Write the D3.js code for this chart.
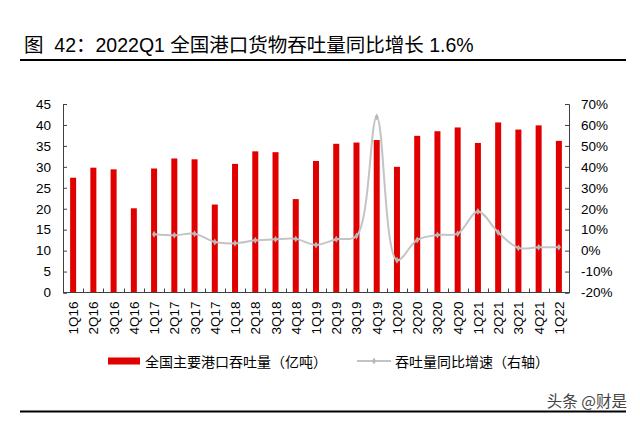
<!DOCTYPE html>
<html><head><meta charset="utf-8">
<script src="https://cdn.jsdelivr.net/npm/d3@7"></script>
<style>
body{margin:0;background:#fff;}
svg{display:block;font-family:"Liberation Sans","Noto Sans CJK SC",Arial,sans-serif;}
.pre{white-space:pre;}
</style></head>
<body>
<svg id="c" width="640" height="421"></svg>
<script>
const categories = ["1Q16","2Q16","3Q16","4Q16","1Q17","2Q17","3Q17","4Q17","1Q18","2Q18","3Q18","4Q18","1Q19","2Q19","3Q19","4Q19","1Q20","2Q20","3Q20","4Q20","1Q21","2Q21","3Q21","4Q21","1Q22"];
const throughput = [27.4,29.8,29.4,20.1,29.6,32.0,31.8,21.0,30.7,33.7,33.5,22.3,31.4,35.5,35.8,36.4,30.0,37.4,38.5,39.4,35.7,40.6,38.9,39.9,36.2];
const growth = [null,null,null,null,7.8,7.3,8.1,4.1,3.5,4.9,5.4,5.6,2.7,5.4,7.0,63.8,-4.6,5.1,7.5,8.1,18.7,8.7,1.3,1.6,1.6];
const leftTicks = [0,5,10,15,20,25,30,35,40,45];
const rightTicks = [-20,-10,0,10,20,30,40,50,60,70];
const title = "图  42：2022Q1 全国港口货物吞吐量同比增长 1.6%";
const legendBar = "全国主要港口吞吐量（亿吨）";
const legendLine = "吞吐量同比增速（右轴）";
const watermark = "头条 @财是";

const svg = d3.select("#c");
const L = 63, R = 569, T = 104, B = 292.5;
const axisColor = "#404040";
const cjk = '"Noto Sans CJK SC","Liberation Sans",sans-serif';

svg.append("text").attr("class","pre").attr("x",24).attr("y",52).attr("font-size",19.5).attr("fill","#000").text(title);
svg.append("line").attr("x1",20).attr("x2",626).attr("y1",60).attr("y2",60).attr("stroke","#000").attr("stroke-width",2);

const xb = d3.scaleBand().domain(categories).range([L,R]);
const yL = d3.scaleLinear().domain([0,45]).range([B,T]);
const yR = d3.scaleLinear().domain([-20,70]).range([B,T]);

// bars
svg.append("g").selectAll("rect").data(categories).join("rect")
  .attr("x",d=>xb(d)+xb.bandwidth()/2-3)
  .attr("width",6)
  .attr("y",(d,i)=>yL(throughput[i]))
  .attr("height",(d,i)=>B-yL(throughput[i]))
  .attr("fill","#e00000");

// line
const pts = categories.map((c,i)=>({c,v:growth[i]})).filter(p=>p.v!==null);
const line = d3.line().x(p=>xb(p.c)+xb.bandwidth()/2).y(p=>yR(p.v)).curve(d3.curveCatmullRom.alpha(0.5));
svg.append("path").datum(pts).attr("d",line).attr("fill","none").attr("stroke","#c4c4c4").attr("stroke-width",2);
svg.append("g").selectAll("path").data(pts).join("path")
  .attr("transform",p=>`translate(${xb(p.c)+xb.bandwidth()/2},${yR(p.v)})`)
  .attr("d",d3.symbol(d3.symbolDiamond,14)())
  .attr("fill","#b8b8b8");

// left axis
const gl = svg.append("g").attr("transform",`translate(${L},0)`)
  .call(d3.axisLeft(yL).tickValues(leftTicks).tickSizeInner(-4).tickSizeOuter(-4).tickPadding(12));
// right axis
const gr = svg.append("g").attr("transform",`translate(${R},0)`)
  .call(d3.axisRight(yR).tickValues(rightTicks).tickFormat(d=>d+"%").tickSizeInner(-4).tickSizeOuter(-4).tickPadding(12));
[gl,gr].forEach(g=>{
  g.select(".domain").attr("stroke",axisColor);
  g.selectAll(".tick line").attr("stroke",axisColor);
  g.selectAll("text").attr("font-size",13.5).attr("fill","#000").attr("font-family",'"Liberation Sans",Arial,sans-serif');
});

// bottom axis
const gb = svg.append("g");
gb.append("line").attr("x1",L).attr("x2",R).attr("y1",B).attr("y2",B).attr("stroke",axisColor);
gb.selectAll("line.t").data(categories.slice(1)).join("line").attr("class","t")
  .attr("x1",d=>Math.round(xb(d))+0.5).attr("x2",d=>Math.round(xb(d))+0.5)
  .attr("y1",B).attr("y2",B-4).attr("stroke",axisColor);
gb.selectAll("text").data(categories).join("text")
  .attr("transform",d=>`translate(${xb(d)+xb.bandwidth()/2+5},${B+9}) rotate(-90)`)
  .attr("text-anchor","end").attr("font-size",13.5).attr("fill","#000").text(d=>d);

// legend
function fitText(sel, target){
  const w = sel.node().getComputedTextLength();
  if (w > 0 && w < target - 2) {
    const n = sel.text().length;
    sel.attr("letter-spacing", ((target - w) / n).toFixed(2));
  }
}
svg.append("rect").attr("x",108).attr("y",357.5).attr("width",32).attr("height",7).attr("fill","#e00000");
const t1 = svg.append("text").attr("x",145).attr("y",366.5).attr("font-size",14).attr("font-family",cjk).attr("fill","#000").text(legendBar);
fitText(t1, 174);
svg.append("line").attr("x1",357).attr("x2",391).attr("y1",361).attr("y2",361).attr("stroke","#c4c4c4").attr("stroke-width",2);
svg.append("path").attr("transform","translate(374,361)").attr("d",d3.symbol(d3.symbolDiamond,14)()).attr("fill","#b8b8b8");
const t2 = svg.append("text").attr("x",395).attr("y",366.5).attr("font-size",14).attr("font-family",cjk).attr("fill","#000").text(legendLine);
fitText(t2, 147);

// watermark + bottom rule
svg.append("text").attr("x",627).attr("y",407).attr("text-anchor","end").attr("font-size",15.5).attr("font-family",cjk)
  .attr("fill","#444").attr("stroke","#fff").attr("stroke-width",0.6).attr("paint-order","stroke").text(watermark);
svg.append("line").attr("x1",20).attr("x2",626).attr("y1",411.5).attr("y2",411.5).attr("stroke","#000").attr("stroke-width",2);
</script>
</body></html>
